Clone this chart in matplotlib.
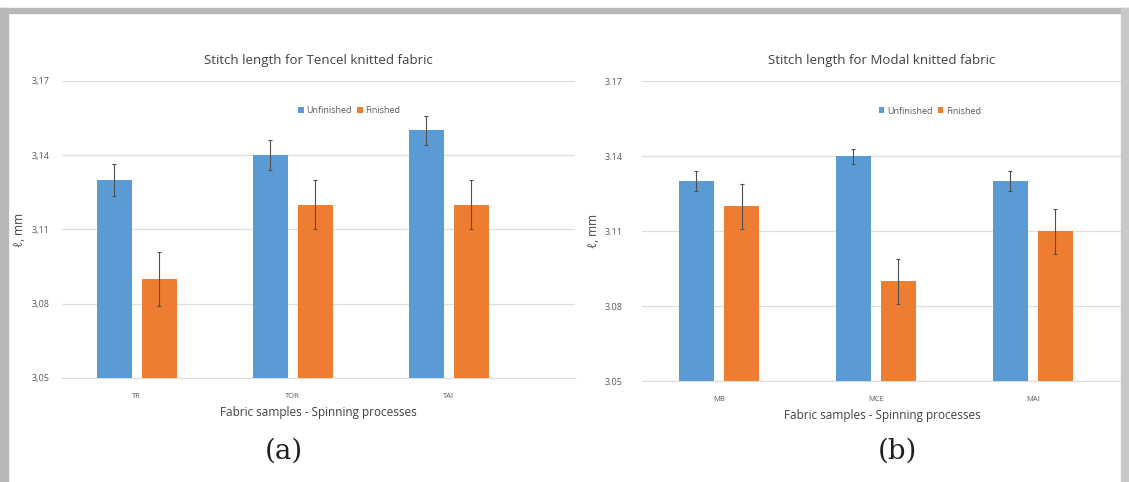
import matplotlib
matplotlib.use("Agg")
import matplotlib.pyplot as plt
import numpy as np
from matplotlib.patches import Rectangle

# ---- data ----
tencel_cats = ["TR", "TOR", "TAI"]
tencel_unfinished = [3.13, 3.14, 3.15]
tencel_unfinished_err = [0.0065, 0.006, 0.006]
tencel_finished = [3.09, 3.12, 3.12]
tencel_finished_err = [0.011, 0.010, 0.010]

modal_cats = ["MB", "MCE", "MAI"]
modal_unfinished = [3.13, 3.14, 3.13]
modal_unfinished_err = [0.004, 0.003, 0.004]
modal_finished = [3.12, 3.09, 3.11]
modal_finished_err = [0.009, 0.009, 0.009]

yticks = [3.05, 3.08, 3.11, 3.14, 3.17]
left_ytick_labels = ["3,05", "3,08", "3,11", "3,14", "3,17"]
right_ytick_labels = ["3.05", "3.08", "3.11", "3.14", "3.17"]

BLUE = "#5B9BD5"
ORANGE = "#ED7D31"
FONT = "Open Sans"

fig = plt.figure(figsize=(11.29, 4.82), dpi=100)

# frame border
fig.patches.append(Rectangle((0, 0.972), 1, 0.012, transform=fig.transFigure,
                             color="#b8b8b8", zorder=0))
fig.patches.append(Rectangle((0.0, 0), 0.007, 0.984, transform=fig.transFigure,
                             color="#b8b8b8", zorder=0))
fig.patches.append(Rectangle((0.993, 0), 0.007, 0.984, transform=fig.transFigure,
                             color="#c8c8c8", zorder=0))


def panel(rect, cats, unf, unf_err, fin, fin_err, title, ticklabels, xlim,
          tick_pad, ylab_pad, leg_x, panel_label, label_x):
    ax = fig.add_axes(rect)
    x = np.arange(len(cats))
    w = 0.224
    off = 0.144
    ekw = dict(ecolor="#505050", elinewidth=0.8, capsize=1.5, capthick=0.8)
    ax.bar(x - off, unf, w, color=BLUE, label="Unfinished", zorder=3,
           yerr=unf_err, error_kw=ekw)
    ax.bar(x + off, fin, w, color=ORANGE, label="Finished", zorder=3,
           yerr=fin_err, error_kw=ekw)
    ax.set_ylim(3.05, 3.17)
    ax.set_xlim(*xlim)
    ax.set_yticks(yticks)
    ax.set_yticklabels(ticklabels, fontsize=6.5, color="#595959", family=FONT)
    ax.set_xticks(x)
    ax.set_xticklabels(cats, fontsize=5.5, color="#595959", family=FONT)
    ax.tick_params(axis="y", length=0, pad=tick_pad)
    ax.tick_params(axis="x", length=0, pad=11)
    ax.grid(axis="y", color="#dedede", linewidth=0.9, zorder=0)
    for s in ["top", "right", "left"]:
        ax.spines[s].set_visible(False)
    ax.spines["bottom"].set_color("#dedede")
    ax.set_title(title, fontsize=9.5, color="#404040", family=FONT, pad=12)
    ax.set_xlabel("Fabric samples - Spinning processes", fontsize=8.5,
                  color="#404040", family=FONT, labelpad=4)
    ax.set_ylabel("ℓ, mm", fontsize=8.5, color="#404040", family=FONT,
                  labelpad=ylab_pad)
    leg = ax.legend(loc="center", bbox_to_anchor=(leg_x, 0.9), ncol=2,
                    frameon=False, handlelength=0.6,
                    handleheight=0.6, handletextpad=0.3, columnspacing=0.6,
                    prop={"family": FONT, "size": 6.5})
    for t in leg.get_texts():
        t.set_color("#595959")
    fig.text(label_x, 0.065, panel_label, fontsize=20, family="DejaVu Serif",
             ha="center", va="center", color="#202020")
    return ax


panel([0.0549, 0.2158, 0.4544, 0.6162], tencel_cats, tencel_unfinished,
      tencel_unfinished_err, tencel_finished, tencel_finished_err,
      "Stitch length for Tencel knitted fabric", left_ytick_labels,
      (-0.48, 2.81), 9, 4, 0.56, "(a)", 0.251)

panel([0.5687, 0.2095, 0.4252, 0.6224], modal_cats, modal_unfinished,
      modal_unfinished_err, modal_finished, modal_finished_err,
      "Stitch length for Modal knitted fabric", right_ytick_labels,
      (-0.49, 2.57), 14, 3, 0.60, "(b)", 0.795)

fig.savefig("out.png", dpi=100)
